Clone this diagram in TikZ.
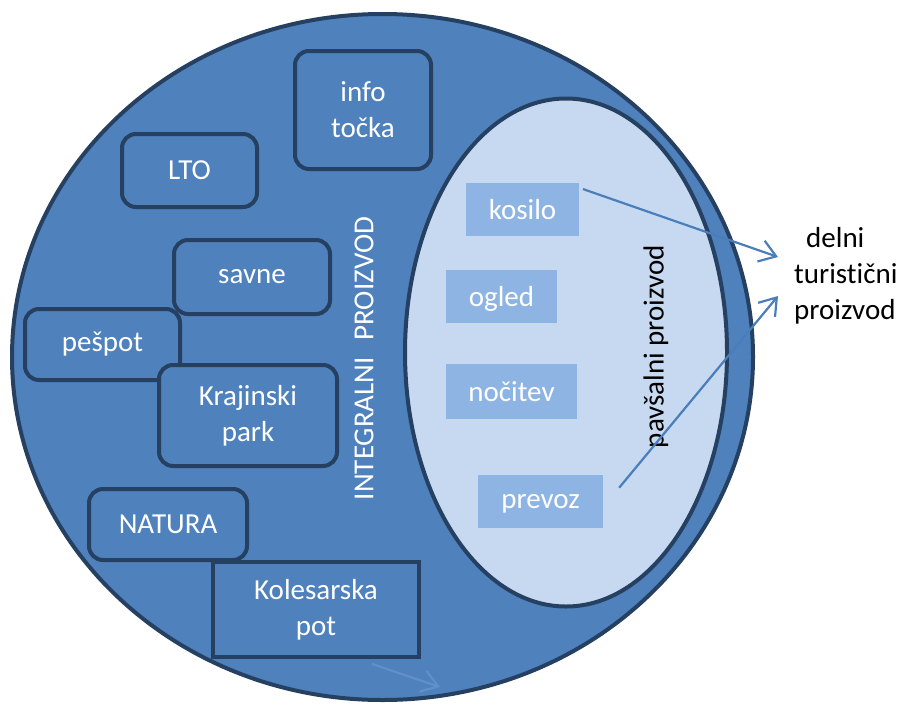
\documentclass[tikz,border=0pt]{standalone}
\usepackage{fontspec}
\setmainfont{Carlito}[Ligatures=NoCommon]
\usetikzlibrary{arrows.meta}

\newlength{\du}
\setlength{\du}{1pt}

\definecolor{outerfill}{RGB}{79,129,189}
\definecolor{boxline}{RGB}{37,64,97}
\definecolor{innerfill}{RGB}{198,217,241}
\definecolor{lightfill}{RGB}{142,180,227}
\definecolor{arrowline}{RGB}{74,126,187}
\definecolor{faintline}{RGB}{96,144,203}

\tikzset{
  ring/.style={draw=boxline, line width=4\du, fill=outerfill},
  darkbox/.style={draw=boxline, line width=4\du, fill=outerfill, rounded corners=14\du,
    text=white, align=center, inner sep=0pt, font=\fontsize{29}{36}\selectfont},
  lightbox/.style={fill=lightfill, text=white, inner sep=0pt, text depth=0pt,
    font=\fontsize{29}{36}\selectfont},
  plaintext/.style={inner sep=0pt, font=\fontsize{29}{36}\selectfont},
  arr/.style={draw=arrowline, line width=2.2pt, -{Straight Barb[length=16pt,width=22pt]}},
}

\begin{document}
\begin{tikzpicture}
\pgftransformyscale{-1.000000}
\useasboundingbox (0\du,0\du) rectangle (901\du,704\du);
% outer and inner ellipse
\draw[ring] (382.5\du,357\du) ellipse [x radius=370.5\du, y radius=343\du];
\draw[ring, fill=innerfill] (566\du,352.5\du) ellipse [x radius=161\du, y radius=254\du];
% integral product boxes
\node[darkbox, sharp corners, minimum width=206\du, minimum height=95\du] (kolesarska) at (316\du,609.5\du) {Kolesarska\\pot};
\node[darkbox, minimum width=158\du, minimum height=71\du] (natura) at (168\du,524.5\du) {NATURA};
\node[darkbox, minimum width=156\du, minimum height=74\du] (savne) at (252\du,277\du) {savne};
\node[darkbox, minimum width=155\du, minimum height=71\du] (pespot) at (102.5\du,344.5\du) {pešpot};
\node[darkbox, minimum width=178\du, minimum height=101\du] (krajinski) at (248\du,415.5\du) {Krajinski\\park};
\node[darkbox, minimum width=135\du, minimum height=73\du] (lto) at (189.5\du,170.5\du) {LTO};
\node[darkbox, minimum width=136\du, minimum height=118\du] (info) at (363\du,110\du) {info\\točka};
% package product boxes
\node[lightbox, minimum width=113\du, minimum height=53\du] (kosilo) at (522.5\du,209.5\du) {kosilo};
\node[lightbox, minimum width=111\du, minimum height=53\du] (ogled) at (501.5\du,296.5\du) {ogled};
\node[lightbox, minimum width=131\du, minimum height=55\du] (nocitev) at (511.5\du,391.5\du) {nočitev};
\node[lightbox, minimum width=125\du, minimum height=53\du] (prevoz) at (540.5\du,501.5\du) {prevoz};
% labels
\node[plaintext, text=white, rotate=90] (integralni) at (364\du,358.5\du) {INTEGRALNI\hspace{10pt} PROIZVOD};
\node[plaintext, rotate=90] (pavsalni) at (656\du,346.5\du) {pavšalni proizvod};
\node[plaintext, align=left, anchor=west] (delni) at (794\du,276\du) {\hspace*{12pt}delni\\turistični\\proizvod};
% arrows
\coordinate (tipA) at (778\du,257\du);
\coordinate (tipB) at (778\du,296\du);
\coordinate (tipC) at (440\du,687\du);
\draw[arr, shorten <=4pt] (kosilo.21) -- (tipA);
\draw[arr, shorten <=25pt] (prevoz.-5) -- (tipB);
\draw[arr, draw=faintline, shorten <=15pt] (kolesarska.-50) -- (tipC);
\end{tikzpicture}
\end{document}
